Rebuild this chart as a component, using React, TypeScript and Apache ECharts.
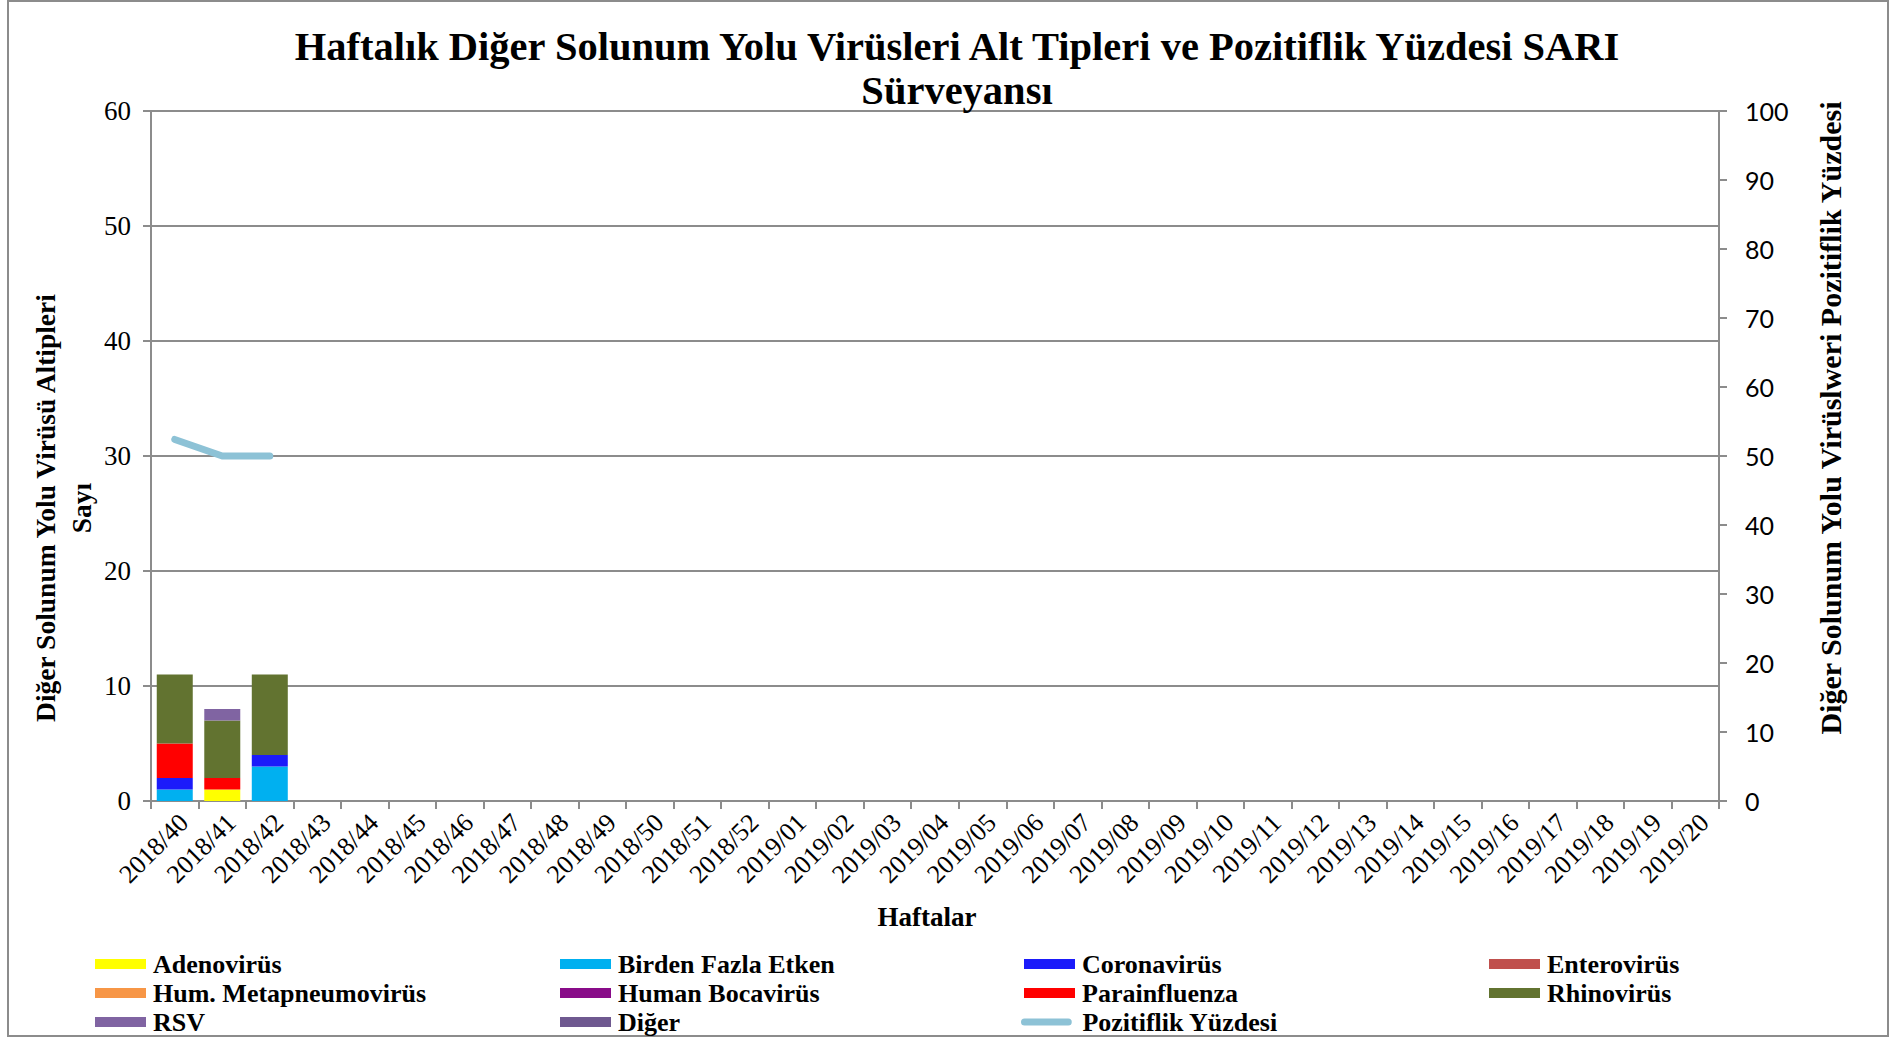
import React, { useEffect, useRef } from "react";
import * as echarts from "echarts";

const weeks = [
  "2018/40", "2018/41", "2018/42", "2018/43", "2018/44", "2018/45", "2018/46",
  "2018/47", "2018/48", "2018/49", "2018/50", "2018/51", "2018/52", "2019/01",
  "2019/02", "2019/03", "2019/04", "2019/05", "2019/06", "2019/07", "2019/08",
  "2019/09", "2019/10", "2019/11", "2019/12", "2019/13", "2019/14", "2019/15",
  "2019/16", "2019/17", "2019/18", "2019/19", "2019/20",
];

const adenovirus = [0, 1, 0];
const birdenFazla = [1, 0, 3];
const coronavirus = [1, 0, 1];
const enterovirus = [0, 0, 0];
const metapneumo = [0, 0, 0];
const bocavirus = [0, 0, 0];
const parainfluenza = [3, 1, 0];
const rhinovirus = [6, 5, 7];
const rsv = [0, 1, 0];
const diger = [0, 0, 0];
const pozitiflik = [52.4, 50, 50];

const leftTicks = { min: 0, max: 60, interval: 10 };
const rightTicks = { min: 0, max: 100, interval: 10 };

const SERIF = "'Liberation Serif', 'Times New Roman', serif";
const GRAY = "#8c8c8c";
const LINE_COLOR = "#8DC2D6";

const barDefs = [
  { name: "Adenovirüs", data: adenovirus, color: "#FFFF00" },
  { name: "Birden Fazla Etken", data: birdenFazla, color: "#00B0F0" },
  { name: "Coronavirüs", data: coronavirus, color: "#1B1BFA" },
  { name: "Enterovirüs", data: enterovirus, color: "#C0504D" },
  { name: "Hum. Metapneumovirüs", data: metapneumo, color: "#F79646" },
  { name: "Human Bocavirüs", data: bocavirus, color: "#890C89" },
  { name: "Parainfluenza", data: parainfluenza, color: "#FF0000" },
  { name: "Rhinovirüs", data: rhinovirus, color: "#627330" },
  { name: "RSV", data: rsv, color: "#8064A2" },
  { name: "Diğer", data: diger, color: "#6F5990" },
];

const legendGrid = [
  ["Adenovirüs", "Birden Fazla Etken", "Coronavirüs", "Enterovirüs"],
  ["Hum. Metapneumovirüs", "Human Bocavirüs", "Parainfluenza", "Rhinovirüs"],
  ["RSV", "Diğer", "Pozitiflik Yüzdesi"],
];
const legendLefts = [95, 560, 1024, 1489];
const legendRowCenters = [964, 993, 1022];

export default function App() {
  const ref = useRef<HTMLDivElement>(null);

  useEffect(() => {
    if (!ref.current) return;
    const chart = echarts.init(ref.current, undefined, { renderer: "svg" });

    const series: any[] = barDefs.map((b) => ({
      name: b.name,
      type: "bar",
      stack: "total",
      barWidth: 36,
      data: b.data.map((v) => (v === 0 ? null : v)),
      itemStyle: { color: b.color },
      yAxisIndex: 0,
    }));
    series.push({
      name: "Pozitiflik Yüzdesi",
      type: "line",
      yAxisIndex: 1,
      data: pozitiflik,
      showSymbol: false,
      symbol: "none",
      lineStyle: { color: LINE_COLOR, width: 7, cap: "round", join: "round" },
      itemStyle: { color: LINE_COLOR },
      z: 5,
    });

    const legends: any[] = [];
    legendGrid.forEach((row, r) => {
      row.forEach((n, c) => {
        const isLine = n === "Pozitiflik Yüzdesi";
        legends.push({
          orient: "horizontal",
          left: isLine ? legendLefts[c] - 3 : legendLefts[c],
          top: legendRowCenters[r] - 13,
          padding: 0,
          itemWidth: isLine ? 58 : 51,
          itemHeight: isLine ? 7 : 10,
          selectedMode: false,
          textStyle: {
            fontFamily: SERIF,
            fontSize: 26,
            fontWeight: "bold",
            color: "#000",
            padding: [0, 0, 0, 2],
          },
          data: [
            isLine
              ? {
                  name: n,
                  icon: "path://M4,0 H54 A4,4 0 0 1 54,8 H4 A4,4 0 0 1 4,0 Z",
                  itemStyle: { color: LINE_COLOR },
                }
              : { name: n, icon: "rect" },
          ],
        });
      });
    });

    chart.setOption({
      animation: false,
      backgroundColor: "#fff",
      title: {
        text: "Haftalık Diğer Solunum Yolu Virüsleri Alt Tipleri ve Pozitiflik Yüzdesi SARI\nSürveyansı",
        left: 952,
        top: 19,
        textAlign: "center",
        textStyle: {
          fontFamily: SERIF,
          fontSize: 40.5,
          fontWeight: "bold",
          color: "#000",
          lineHeight: 44,
        },
      },
      legend: legends,
      grid: { left: 151, right: 175, top: 111, bottom: 237, containLabel: false },
      xAxis: {
        type: "category",
        data: weeks,
        name: "Haftalar",
        nameLocation: "middle",
        nameGap: 102,
        nameTextStyle: {
          fontFamily: SERIF,
          fontSize: 27,
          fontWeight: "bold",
          color: "#000",
          padding: [0, 16, 0, 0],
        },
        axisLine: { show: true, lineStyle: { color: GRAY, width: 2 } },
        axisTick: { show: true, length: 8, lineStyle: { color: GRAY, width: 2 } },
        axisLabel: {
          interval: 0,
          rotate: 45,
          margin: 8,
          verticalAlign: "top",
          fontFamily: SERIF,
          fontSize: 26,
          color: "#000",
        },
        splitLine: { show: false },
      },
      yAxis: [
        {
          type: "value",
          min: leftTicks.min,
          max: leftTicks.max,
          interval: leftTicks.interval,
          axisLine: { show: true, lineStyle: { color: GRAY, width: 2 } },
          axisTick: { show: true, length: 8, lineStyle: { color: GRAY, width: 2 } },
          axisLabel: {
            margin: 20,
            fontFamily: SERIF,
            fontSize: 27,
            color: "#000",
          },
          splitLine: { show: true, lineStyle: { color: GRAY, width: 2 } },
        },
        {
          type: "value",
          position: "right",
          min: rightTicks.min,
          max: rightTicks.max,
          interval: rightTicks.interval,
          axisLine: { show: true, lineStyle: { color: GRAY, width: 2 } },
          axisTick: { show: true, length: 8, lineStyle: { color: GRAY, width: 2 } },
          axisLabel: {
            margin: 26,
            fontFamily: "Lato, 'Open Sans', sans-serif",
            fontSize: 25,
            color: "#000",
          },
          splitLine: { show: false },
        },
      ],
      graphic: [
        {
          type: "rect",
          shape: { x: 8, y: 1, width: 1880, height: 1035 },
          style: { fill: "none", stroke: GRAY, lineWidth: 2 },
          silent: true,
          z: -10,
        },
        {
          type: "text",
          x: 63,
          y: 508,
          rotation: Math.PI / 2,
          style: {
            text: "Diğer Solunum Yolu Virüsü Altipleri\nSayı",
            align: "center",
            verticalAlign: "middle",
            fontFamily: SERIF,
            fontSize: 27.5,
            fontWeight: "bold",
            lineHeight: 36,
            fill: "#000",
          },
        },
        {
          type: "text",
          x: 1830,
          y: 418,
          rotation: Math.PI / 2,
          style: {
            text: "Diğer Solunum Yolu Virüslweri Pozitiflik Yüzdesi",
            align: "center",
            verticalAlign: "middle",
            fontFamily: SERIF,
            fontSize: 30,
            fontWeight: "bold",
            fill: "#000",
          },
        },
      ],
      series,
    });

    return () => chart.dispose();
  }, []);

  return (
    <div
      ref={ref}
      style={{ position: "fixed", left: 0, top: 0, width: 1894, height: 1038 }}
    />
  );
}
